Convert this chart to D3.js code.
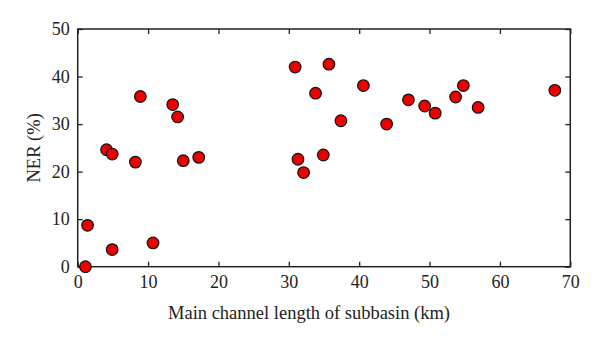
<!DOCTYPE html>
<html><head><meta charset="utf-8">
<script src="https://cdn.jsdelivr.net/npm/d3@7"></script>
<style>body{margin:0;background:#fff}svg{display:block}</style>
</head><body>
<script>
const lengthKm = [1.1, 1.4, 4.1, 4.9, 4.9, 8.2, 8.9, 10.7, 13.5, 14.2, 15.0, 17.2, 30.9, 31.3, 32.1, 33.8, 34.9, 35.7, 37.4, 40.6, 43.9, 47.0, 49.3, 50.8, 53.7, 54.8, 56.9, 67.8];
const nerPct   = [0.0, 8.7, 24.6, 23.7, 3.6, 22.0, 35.8, 5.0, 34.1, 31.5, 22.3, 23.0, 42.0, 22.6, 19.8, 36.5, 23.5, 42.6, 30.7, 38.1, 30.0, 35.1, 33.8, 32.3, 35.7, 38.1, 33.5, 37.1];
const xTicks = [0, 10, 20, 30, 40, 50, 60, 70];
const yTicks = [0, 10, 20, 30, 40, 50];
const xLabel = "Main channel length of subbasin (km)";
const yLabel = "NER (%)";

const W = 600, H = 346;
const m = {left: 77.7, right: 600 - 570.3, top: 29, bottom: 346 - 266.7};
const svg = d3.select("body").append("svg").attr("width", W).attr("height", H);
const x = d3.scaleLinear().domain([0, 70]).range([m.left, W - m.right]);
const y = d3.scaleLinear().domain([0, 50]).range([H - m.bottom, m.top]);
const font = "'Liberation Serif', 'Times New Roman', serif";
const tl = 5;

function styleAxis(g, showText) {
  g.select(".domain").remove();
  g.selectAll(".tick line").attr("stroke", "#222").attr("stroke-width", 1.3);
  g.selectAll(".tick text").attr("font-family", font).attr("font-size", 18).attr("fill", "#222");
  if (!showText) g.selectAll(".tick text").remove();
}
// bottom
svg.append("g").attr("transform", `translate(0,${y(0)})`)
  .call(d3.axisBottom(x).tickValues(xTicks).tickSizeInner(-tl).tickSizeOuter(0).tickPadding(9))
  .call(g => styleAxis(g, true));
// top
svg.append("g").attr("transform", `translate(0,${y(50)})`)
  .call(d3.axisTop(x).tickValues(xTicks).tickSizeInner(-tl).tickSizeOuter(0))
  .call(g => styleAxis(g, false));
// left
svg.append("g").attr("transform", `translate(${x(0)},0)`)
  .call(d3.axisLeft(y).tickValues(yTicks).tickSizeInner(-tl).tickSizeOuter(0).tickPadding(8))
  .call(g => styleAxis(g, true));
// right
svg.append("g").attr("transform", `translate(${x(70)},0)`)
  .call(d3.axisRight(y).tickValues(yTicks).tickSizeInner(-tl).tickSizeOuter(0))
  .call(g => styleAxis(g, false));

svg.append("rect").attr("x", x(0)).attr("y", y(50))
  .attr("width", x(70) - x(0)).attr("height", y(0) - y(50))
  .attr("fill", "none").attr("stroke", "#222").attr("stroke-width", 1.5);

svg.append("g").selectAll("circle").data(lengthKm).join("circle")
  .attr("cx", d => x(d)).attr("cy", (d, i) => y(nerPct[i]))
  .attr("r", 5.8).attr("fill", "#ee0000").attr("stroke", "#111").attr("stroke-width", 1.2);

svg.append("text").attr("x", 309).attr("y", 319).attr("text-anchor", "middle")
  .attr("font-family", font).attr("font-size", 18.5).attr("fill", "#222").text(xLabel);
svg.append("text").attr("transform", `translate(40,${(y(0)+y(50))/2}) rotate(-90)`)
  .attr("text-anchor", "middle")
  .attr("font-family", font).attr("font-size", 18.5).attr("fill", "#222").text(yLabel);
</script>
</body></html>
